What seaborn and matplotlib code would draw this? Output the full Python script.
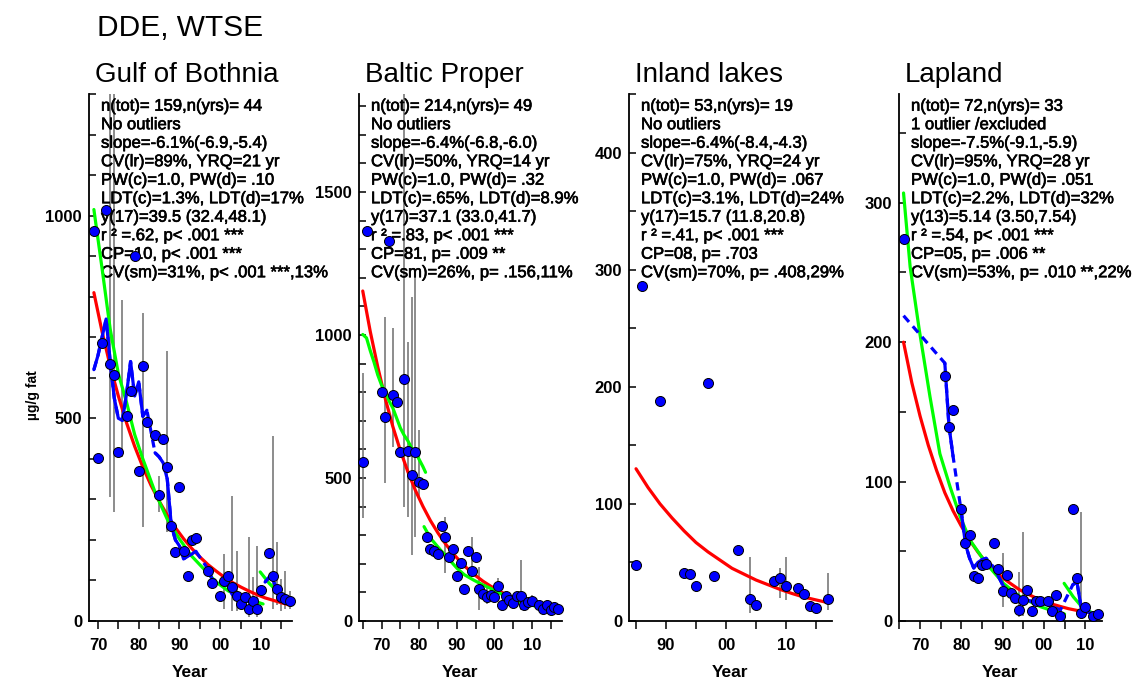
import matplotlib
matplotlib.use("Agg")
import numpy as np
import matplotlib.pyplot as plt
import matplotlib.patheffects as pe
from matplotlib.ticker import MultipleLocator, FuncFormatter
import seaborn as sns

# ---------------- Gulf of Bothnia ----------------
gb_years = [1969, 1970, 1971, 1972, 1973, 1974, 1975, 1977, 1978, 1979, 1980, 1981, 1982,
            1984, 1985, 1986, 1987, 1988, 1989, 1990, 1991, 1992, 1993, 1994, 1997, 1998,
            2000, 2001, 2002, 2003, 2004, 2005, 2006, 2007, 2008, 2009, 2010, 2012, 2013,
            2014, 2015, 2016, 2017]
gb_vals = [963, 401, 687, 1015, 633, 608, 416, 505, 567, 900, 370, 628, 491,
           460, 312, 448, 379, 235, 170, 330, 172, 111, 200, 204, 124, 94,
           62, 98, 112, 84, 62, 42, 59, 30, 50, 30, 77, 167, 111,
           79, 59, 54, 50]
gb_err_years = [1973, 1974, 1976, 1981, 1985, 1987, 2001, 2003, 2004, 2007, 2008, 2009,
                2013, 2014, 2015, 2016, 2017]
gb_err_lo = [305, 270, 404, 231, 268, 219, 30, 25, 25, 10, 20, 10, 30, 40, 25, 30, 30]
gb_err_hi = [1400, 1400, 793, 761, 357, 665, 165, 308, 172, 207, 108, 185, 456, 195, 103, 123, 74]
gb_red_years = [1969, 1971, 1973, 1975, 1977, 1979, 1981, 1983, 1985, 1987, 1989, 1991, 1993,
                1995, 1997, 1999, 2001, 2003, 2005, 2007, 2009, 2011, 2013, 2015, 2017]
gb_red_vals = [810, 714, 629, 555, 489, 431, 380, 335, 296, 261, 230, 203, 179,
               158, 139, 123, 108, 95, 84, 74, 65, 57, 51, 45, 39.5]
gb_green1_years = [1969, 1971, 1973, 1975, 1977, 1979, 1981, 1984, 1987, 1990, 1993, 1996,
                   1999, 2002, 2005, 2008, 2010.5]
gb_green1_vals = [1015, 870, 720, 610, 540, 460, 400, 318, 251, 202, 160, 128, 96, 74, 60, 50, 42]
gb_green2_years = [2009.8, 2012, 2014.5, 2017]
gb_green2_vals = [121, 93, 68, 54]
gb_blue_years = [1969, 1970, 1971, 1972, 1973, 1974, 1975, 1976, 1977, 1978, 1979, 1980, 1981,
                 1982, 1984, 1985, 1986, 1987, 1988, 1989, 1990, 1991, 1992, 1993, 1994, 1997,
                 1998, 2000, 2001, 2002, 2003, 2004, 2005, 2006, 2007, 2008, 2009, 2010,
                 2011, 2012, 2013, 2014, 2015, 2016, 2017]
gb_blue_vals = [620, 655, 700, 745, 640, 550, 500, 495, 560, 640, 555, 590, 505,
                520, 415, 405, 390, 350, 235, 200, 185, 153, 160, 165, 172, 128,
                103, 96, 96, 85, 65, 55, 52, 50, 48, 47, 54, np.nan,
                96, 108, 100, 75, 60, 56, 54]

# ---------------- Baltic Proper ----------------
bp_years = [1965, 1966, 1970, 1971, 1972, 1973, 1974, 1975, 1976, 1977, 1978, 1979, 1980,
            1981, 1982, 1983, 1984, 1985, 1986, 1987, 1988, 1989, 1990, 1991, 1992, 1993,
            1994, 1995, 1996, 1997, 1998, 1999, 2000, 2001, 2002, 2003, 2004, 2005, 2006,
            2007, 2008, 2009, 2010, 2012, 2013, 2014, 2015, 2016, 2017]
bp_vals = [555, 1364, 802, 714, 1329, 790, 767, 592, 845, 595, 509, 591, 486,
           479, 293, 251, 246, 234, 332, 293, 225, 251, 157, 202, 111, 246,
           176, 223, 111, 94, 85, 91, 85, 122, 56, 87, 75, 62, 87,
           87, 56, 65, 71, 55, 43, 56, 38, 48, 41]
bp_err_years = [1965, 1971, 1973, 1976, 1977, 1978, 1979, 1980, 1987, 1994, 1996, 1998,
                2001, 2007, 2010]
bp_err_lo = [360, 482, 608, 400, 365, 231, 295, 435, 167, 155, 38, 60, 100, 38, 55]
bp_err_hi = [867, 1064, 1025, 2000, 977, 1134, 1204, 668, 365, 295, 190, 120, 150, 213, 90]
bp_red_years = [1965, 1967, 1969, 1971, 1973, 1975, 1977, 1979, 1981, 1983, 1985, 1987, 1989,
                1991, 1993, 1995, 1997, 1999, 2001, 2003, 2005, 2007, 2009, 2011, 2013,
                2015, 2017]
bp_red_vals = [1154, 1012, 888, 777, 680, 596, 522, 457, 401, 351, 308, 270, 236,
               207, 181, 159, 139, 122, 107, 93, 82, 72, 63, 55, 48, 42, 37]
bp_green1_years = [1965, 1966, 1967, 1968, 1969, 1970, 1971, 1972, 1973, 1974, 1975, 1976,
                   1977, 1978, 1979, 1980, 1981, 1981.7]
bp_green1_vals = [1002, 990, 945, 905, 860, 825, 800, 770, 745, 710, 675, 650,
                  630, 605, 590, 565, 540, 520]
bp_green2_years = [1981.3, 1983, 1985.7, 1988, 1990.1, 1992, 1994.5, 1997, 1999, 2001,
                   2003.4, 2005.5, 2007.8, 2010, 2012.2, 2014.5, 2017]
bp_green2_vals = [330, 290, 248, 215, 184, 162, 143, 126, 114, 100, 85, 72, 62, 55, 48, 43, 38]

# ---------------- Inland lakes ----------------
il_years = [1985, 1986, 1989, 1993, 1994, 1995, 1997, 1998, 2002, 2004, 2005, 2008, 2009,
            2010, 2012, 2013, 2014, 2015, 2017]
il_vals = [48, 286, 188, 41, 40, 30, 203, 38, 61, 18.5, 14, 34, 37, 30, 28, 23, 13, 11, 18.5]
il_err_years = [2004, 2009, 2010, 2017]
il_err_lo = [6.5, 20, 18, 9.4]
il_err_hi = [55, 45, 55, 41]
il_red_years = [1985, 1987, 1989, 1991, 1993, 1995, 1997, 1999, 2001, 2003, 2005, 2007,
                2009, 2011, 2013, 2015, 2017]
il_red_vals = [130, 114, 100, 88, 77, 67, 59, 52, 45, 40, 35, 31, 27, 23.5, 20.4, 18, 15.7]

# ---------------- Lapland ----------------
lp_years = [1966, 1976, 1977, 1978, 1980, 1981, 1982, 1983, 1984, 1985, 1986, 1988, 1989,
            1990, 1991, 1992, 1993, 1994, 1995, 1996, 1997, 1998, 1999, 2001, 2002, 2003,
            2004, 2007, 2008, 2009, 2010, 2012, 2013]
lp_vals = [274, 176, 139, 151, 80, 56, 62, 32, 31, 40, 41, 56, 37,
           21.5, 33, 20, 16.7, 8, 15, 22, 7, 14, 14.5, 14.5, 7, 19,
           3.6, 80, 31, 5.5, 10, 3.6, 4.8]
lp_err_years = [1990, 1994, 1995, 2009]
lp_err_lo = [10, 3, 3.6, 5.7]
lp_err_hi = [48.5, 35, 64, 78]
lp_red_years = [1966, 1968, 1970, 1972, 1974, 1976, 1978, 1980, 1982, 1984, 1986, 1988,
                1990, 1992, 1994, 1996, 1998, 2000, 2002, 2004, 2006, 2008, 2010, 2012, 2013]
lp_red_vals = [200, 171, 147, 126, 108, 92, 79, 68, 58, 49.5, 42, 36.5,
               31, 26.7, 22.6, 19.5, 16.6, 14.2, 12.1, 10.4, 8.8, 7.6, 6.5, 5.6, 5.14]
lp_green1_years = [1966, 1967.6, 1969.8, 1972.4, 1974.8, 1977.3, 1979.7, 1982.1, 1986.1,
                   1990.2, 1994.2, 1999.1, 2003.9, 2005]
lp_green1_vals = [307, 254, 209, 161, 120, 96, 75, 58, 41, 27, 17.4, 10.3, 5.5, 5]
lp_green2_years = [2004.9, 2007.1, 2009.5, 2012, 2013]
lp_green2_vals = [27, 17.4, 9.1, 5.5, 4.5]
lp_blue_years = [1966, 1976, 1977, 1978, 1980, 1981, 1982, 1983, 1984, 1985, 1986, 1988, 1989,
                 1990, 1991, 1992, 1993, 1994, 1995, 1996, 1997, 1998, 1999, 2001, 2002, 2003,
                 2004, 2007, 2008, 2009, 2010, 2012, 2013]
lp_blue_vals = [219, 185, 140, 118, 78, 55, 45, 38, 42, 44, 45, 38, 32,
                26, 22, 19, 17, 15, 14, 15, 14, 13, 12, 12, 10, 9,
                8, 26, 28, 10, 7, 5, 5]

# ---------------- texts ----------------
main_title = "DDE, WTSE"
panel_titles = ["Gulf of Bothnia", "Baltic Proper", "Inland lakes", "Lapland"]
gb_text = ["n(tot)= 159,n(yrs)= 44", "No outliers", "slope=-6.1%(-6.9,-5.4)",
           "CV(lr)=89%, YRQ=21 yr", "PW(c)=1.0, PW(d)= .10", "LDT(c)=1.3%, LDT(d)=17%",
           "y(17)=39.5 (32.4,48.1)", "r ² =.62, p< .001 ***", "CP=10, p< .001 ***",
           "CV(sm)=31%, p< .001 ***,13%"]
bp_text = ["n(tot)= 214,n(yrs)= 49", "No outliers", "slope=-6.4%(-6.8,-6.0)",
           "CV(lr)=50%, YRQ=14 yr", "PW(c)=1.0, PW(d)= .32", "LDT(c)=.65%, LDT(d)=8.9%",
           "y(17)=37.1 (33.0,41.7)", "r ² =.83, p< .001 ***", "CP=81, p= .009 **",
           "CV(sm)=26%, p= .156,11%"]
il_text = ["n(tot)= 53,n(yrs)= 19", "No outliers", "slope=-6.4%(-8.4,-4.3)",
           "CV(lr)=75%, YRQ=24 yr", "PW(c)=1.0, PW(d)= .067", "LDT(c)=3.1%, LDT(d)=24%",
           "y(17)=15.7 (11.8,20.8)", "r ² =.41, p< .001 ***", "CP=08, p= .703",
           "CV(sm)=70%, p= .408,29%"]
lp_text = ["n(tot)= 72,n(yrs)= 33", "1 outlier /excluded", "slope=-7.5%(-9.1,-5.9)",
           "CV(lr)=95%, YRQ=28 yr", "PW(c)=1.0, PW(d)= .051", "LDT(c)=2.2%, LDT(d)=32%",
           "y(13)=5.14 (3.50,7.54)", "r ² =.54, p< .001 ***", "CP=05, p= .006 **",
           "CV(sm)=53%, p= .010 **,22%"]
y_label = "µg/g fat"
x_label = "Year"

# ---------------- style ----------------
sns.set_theme(style="ticks")
plt.rcParams['font.family'] = ['Liberation Sans', 'DejaVu Sans']
plt.rcParams['font.weight'] = 'bold'
plt.rcParams['axes.linewidth'] = 1.3

W, H = 1135, 680
fig = plt.figure(figsize=(W / 100, H / 100), dpi=100)

RED = '#FF0000'
GREEN = '#00FF00'
BLUE = '#0000FF'

panels = [
    dict(left=89, xlim=(1967.8, 2017.6), ylim=(0, 1300), ymaj=500, ymin=100,
         pts=(gb_years, gb_vals), err=(gb_err_years, gb_err_lo, gb_err_hi),
         red=(gb_red_years, gb_red_vals),
         greens=[(gb_green1_years, gb_green1_vals), (gb_green2_years, gb_green2_vals)],
         blue=(gb_blue_years, gb_blue_vals), text=gb_text),
    dict(left=359, xlim=(1964.0, 2018.0), ylim=(0, 1843), ymaj=500, ymin=100,
         pts=(bp_years, bp_vals), err=(bp_err_years, bp_err_lo, bp_err_hi),
         red=(bp_red_years, bp_red_vals),
         greens=[(bp_green1_years, bp_green1_vals), (bp_green2_years, bp_green2_vals)],
         blue=None, text=bp_text),
    dict(left=629, xlim=(1983.83, 2017.67), ylim=(0, 450), ymaj=100, ymin=50,
         pts=(il_years, il_vals), err=(il_err_years, il_err_lo, il_err_hi),
         red=(il_red_years, il_red_vals), greens=[], blue=None, text=il_text),
    dict(left=899, xlim=(1964.9, 2014.07), ylim=(0, 378), ymaj=100, ymin=50,
         pts=(lp_years, lp_vals), err=(lp_err_years, lp_err_lo, lp_err_hi),
         red=(lp_red_years, lp_red_vals),
         greens=[(lp_green1_years, lp_green1_vals), (lp_green2_years, lp_green2_vals)],
         blue=(lp_blue_years, lp_blue_vals), text=lp_text),
]

AX_W = 203
AX_TOP, AX_BOT = 94, 621
LW = 2.3


def line(ax, xs, ys, color, z, **kw):
    sns.lineplot(x=xs, y=ys, ax=ax, color=color, linewidth=LW, sort=False,
                 estimator=None, errorbar=None, zorder=z, **kw)


def draw_blue(ax, years, vals):
    years = np.asarray(years, float)
    vals = np.asarray(vals, float)
    segs, cur = [], []
    for y, v in zip(years, vals):
        if np.isnan(v):
            if cur:
                segs.append(cur)
            cur = []
        else:
            cur.append((y, v))
    if cur:
        segs.append(cur)
    for seg in segs:
        line(ax, [s[0] for s in seg], [s[1] for s in seg], BLUE, 2.4,
             linestyle=(0, (2.6, 1.8)))
        run = [seg[0]]
        for a, b in zip(seg[:-1], seg[1:]):
            if b[0] - a[0] <= 1.01:
                run.append(b)
            else:
                if len(run) > 1:
                    line(ax, [r[0] for r in run], [r[1] for r in run], BLUE, 2.5)
                run = [b]
        if len(run) > 1:
            line(ax, [r[0] for r in run], [r[1] for r in run], BLUE, 2.5)


for i, p in enumerate(panels):
    ax = fig.add_axes([p['left'] / W, (H - AX_BOT) / H, AX_W / W, (AX_BOT - AX_TOP) / H])
    ax.set_facecolor('white')
    ey, elo, ehi = p['err']
    ax.vlines(ey, elo, ehi, colors='#6e6e6e', linewidth=1.1, zorder=1.5)
    line(ax, *p['red'], RED, 2.2)
    for gy, gv in p['greens']:
        line(ax, gy, gv, GREEN, 2.3)
    if p['blue'] is not None:
        draw_blue(ax, *p['blue'])
    py, pv = p['pts']
    sns.scatterplot(x=py, y=pv, ax=ax, color=BLUE, edgecolor='black', linewidth=0.7,
                    s=52, zorder=4, clip_on=False)

    ax.set_xlim(*p['xlim'])
    ax.set_ylim(*p['ylim'])
    ax.xaxis.set_major_locator(MultipleLocator(10))
    ax.xaxis.set_minor_locator(MultipleLocator(5))
    ax.xaxis.set_major_formatter(FuncFormatter(lambda v, pos: f"{int(round(v)) % 100:02d}"))
    ax.yaxis.set_major_locator(MultipleLocator(p['ymaj']))
    ax.yaxis.set_minor_locator(MultipleLocator(p['ymin']))
    ax.yaxis.set_major_formatter(FuncFormatter(lambda v, pos: f"{int(round(v))}"))
    ax.tick_params(axis='y', which='both', direction='in', length=5, width=1.1,
                   labelsize=12, pad=5, color='black', labelcolor='black')
    ax.tick_params(axis='x', which='both', direction='out', length=6, width=1.1,
                   labelsize=12, pad=6, color='black', labelcolor='black')
    for s in ['top', 'right']:
        ax.spines[s].set_visible(False)
    for s in ['left', 'bottom']:
        ax.spines[s].set_color('black')
        ax.spines[s].set_linewidth(1.3)
    ax.grid(False)
    ax.set_ylabel('')
    ax.set_xlabel(x_label, fontsize=12.5, fontweight='bold', color='black')
    ax.xaxis.label.set_va('center')
    ax.xaxis.set_label_coords(0.5, -0.097)

    for k, txt in enumerate(p['text']):
        yb = 110.7 + 18.5 * k
        ax.text(12 / AX_W, (AX_BOT - yb) / (AX_BOT - AX_TOP), txt, transform=ax.transAxes,
                ha='left', va='baseline', fontsize=12, fontweight='normal',
                color='black', zorder=1.8,
                path_effects=[pe.withStroke(linewidth=0.45, foreground='black')])

    fig.text((p['left'] + 6) / W, 1 - 82 / H, panel_titles[i], ha='left', va='baseline',
             fontsize=20, fontweight='normal', color='black')

fig.text(97 / W, 1 - 36 / H, main_title, ha='left', va='baseline', fontsize=21.5,
         fontweight='normal', color='black')
fig.text(33 / W, 1 - 395 / H, y_label, rotation=90, ha='center', va='center',
         fontsize=10, fontweight='bold', color='black')

fig.savefig('out.png', dpi=100, facecolor='white')
